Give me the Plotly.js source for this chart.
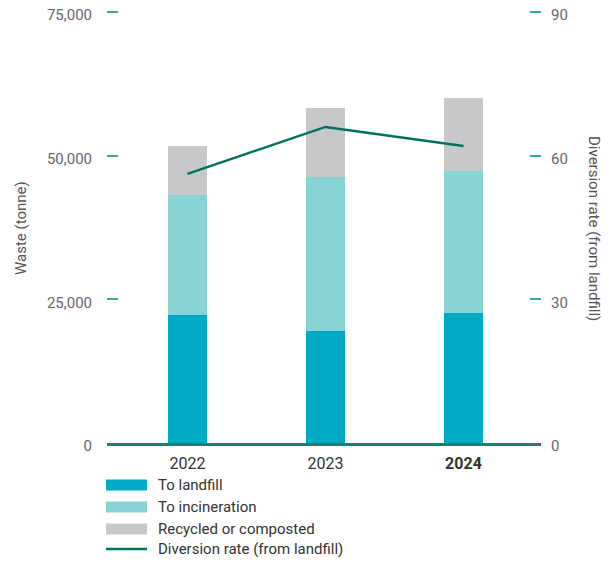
<!DOCTYPE html>
<html>
<head>
<meta charset="utf-8">
<script src="https://cdn.plot.ly/plotly-3.0.1.min.js"></script>
<style>html,body{margin:0;padding:0;background:#fff;}#chart{width:608px;height:562px;}</style>
</head>
<body>
<div id="chart"></div>
<script>
// ---- data ----
const years = ["2022", "2023", "2024"];
const yearLabels = ["2022", "2023", "<b>2024</b>"];
const toLandfill = [22300, 19500, 22700];
const toIncineration = [20900, 26800, 24600];
const recycledComposted = [8500, 12000, 12800];
const diversionRate = [56.2, 66.0, 62.0];
const seriesNames = ["To landfill", "To incineration", "Recycled or composted", "Diversion rate (from landfill)"];
const leftTicks = [0, 25000, 50000, 75000];
const rightTicks = [0, 30, 60, 90];

// ---- styles ----
const colors = ["#00aac4", "#88d3d3", "#c7c8ca", "#00715f"];
const FONT = "Roboto, 'Noto Sans', Arial, sans-serif";

const barW = 0.283;
const traces = [
  {type: "bar", x: years, y: toLandfill, name: seriesNames[0], marker: {color: colors[0]}, width: barW},
  {type: "bar", x: years, y: toIncineration, name: seriesNames[1], marker: {color: colors[1]}, width: barW},
  {type: "bar", x: years, y: recycledComposted, name: seriesNames[2], marker: {color: colors[2]}, width: barW},
  {type: "scatter", mode: "lines", x: years, y: diversionRate, name: seriesNames[3], yaxis: "y2",
   line: {color: colors[3], width: 2.5}}
];

// plot area in pixels: x 107..541, y 6..443 (75,000 sits at y=12)
const L = 107, R = 541, T = 6, B = 443;
const scaleFrac = (B - T) / 431;   // extra headroom above top tick
const px = v => (v - L) / (R - L);
const py = v => (B - v) / (B - T);

const shapes = [];
const annotations = [];
const legendRows = [485, 507, 529, 549];
seriesNames.forEach((n, i) => {
  const yc = legendRows[i];
  if (i < 3) {
    shapes.push({type: "rect", xref: "paper", yref: "paper", x0: px(106), x1: px(147),
      y0: py(yc - 5.5), y1: py(yc + 5.5), fillcolor: colors[i], line: {width: 0}});
  } else {
    shapes.push({type: "line", xref: "paper", yref: "paper", x0: px(106), x1: px(147),
      y0: py(yc), y1: py(yc), line: {color: colors[i], width: 2.5}});
  }
  annotations.push({xref: "paper", yref: "paper", x: px(156), y: py(yc), xanchor: "left", yanchor: "middle",
    text: n, showarrow: false, font: {family: FONT, size: 15, color: "#333333"}});
});

annotations.push({xref: "paper", yref: "paper", x: px(21), y: py(228), text: "Waste (tonne)", textangle: -90,
  showarrow: false, xanchor: "center", yanchor: "middle", font: {family: FONT, size: 15, color: "#555555"}});
annotations.push({xref: "paper", yref: "paper", x: px(594), y: py(228), text: seriesNames[3], textangle: 90,
  showarrow: false, xanchor: "center", yanchor: "middle", font: {family: FONT, size: 15, color: "#555555"}});

const layout = {
  width: 608, height: 562,
  margin: {l: L, r: 608 - R, t: T, b: 562 - B, pad: 0},
  paper_bgcolor: "#ffffff", plot_bgcolor: "#ffffff",
  barmode: "stack",
  showlegend: false,
  font: {family: FONT, size: 15, color: "#666666"},
  xaxis: {
    type: "category", range: [-0.583, 2.562], tickvals: years, ticktext: yearLabels,
    showgrid: false, zeroline: false, showline: true, linecolor: "#17806e", linewidth: 2.5,
    ticks: "", tickfont: {family: FONT, size: 16, color: "#333333"}, ticklabelstandoff: 4
  },
  yaxis: {
    range: [0, 75000 * scaleFrac], tickvals: leftTicks, tickformat: ",d", showgrid: false, zeroline: false,
    ticks: "inside", ticklen: 11, tickwidth: 2, tickcolor: "#3aa898", showline: false,
    tickfont: {family: FONT, size: 15, color: "#666666"}, ticklabelstandoff: 14, ticklabelshift: 3
  },
  yaxis2: {
    overlaying: "y", side: "right", range: [0, 90 * scaleFrac], tickvals: rightTicks, showgrid: false, zeroline: false,
    ticks: "inside", ticklen: 11, tickwidth: 2, tickcolor: "#3aa898", showline: false,
    tickfont: {family: FONT, size: 15, color: "#666666"}, ticklabelstandoff: 9, ticklabelshift: 3
  },
  shapes: shapes,
  annotations: annotations,
  hovermode: false
};

Plotly.newPlot("chart", traces, layout, {displayModeBar: false, staticPlot: true});
</script>
</body>
</html>
